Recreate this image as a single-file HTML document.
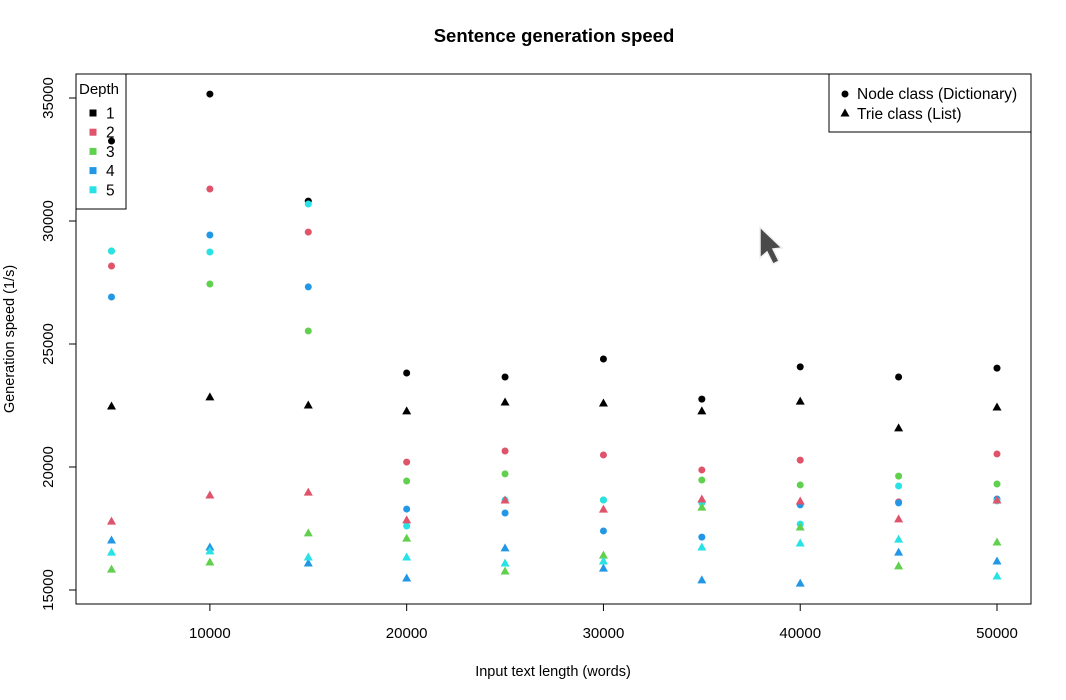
<!DOCTYPE html>
<html><head><meta charset="utf-8"><style>
body{margin:0;background:#fff;}
svg{display:block;font-family:"Liberation Sans",sans-serif;}
</style></head><body>
<svg id="chart" width="1066" height="700" viewBox="0 0 1066 700" xmlns="http://www.w3.org/2000/svg">
<rect width="1066" height="700" fill="#fff"/>
<text x="554" y="42" text-anchor="middle" font-size="18.5" font-weight="bold">Sentence generation speed</text>
<text x="553" y="676" text-anchor="middle" font-size="14.5">Input text length (words)</text>
<text transform="translate(14,339) rotate(-90)" text-anchor="middle" font-size="14.5">Generation speed (1/s)</text>
<rect x="76" y="74" width="955" height="530" fill="none" stroke="#000" stroke-width="1"/>
<g id="axes"></g>
<g>
<rect x="76" y="74" width="50" height="135" fill="#fff" stroke="#000"/>
<text x="79" y="94" font-size="15">Depth</text>
</g>
<g id="depthleg"></g>
<g>
<rect x="829" y="74" width="202" height="58" fill="#fff" stroke="#000"/>
<circle cx="845" cy="94" r="3.5" fill="#000"/>
<text x="857" y="99" font-size="15.5">Node class (Dictionary)</text>
<polygon points="845,108.5 849.5,116.5 840.5,116.5" fill="#000"/>
<text x="857" y="119" font-size="15.5">Trie class (List)</text>
</g>
<g id="marks"></g>
<polygon points="760,227 760,258 767,252 773,264 779,261 773,249 782,248" fill="#4a4a4a" stroke="#f0f0f0" stroke-width="1.5"/>
</svg>
<script>
const xs=[5000,10000,15000,20000,25000,30000,35000,40000,45000,50000];
const xTicks=[10000,20000,30000,40000,50000];
const yTicks=[15000,20000,25000,30000,35000];
const colors=["#000000","#DF536B","#61D04F","#2297E6","#28E2E5"];
const depths=["1","2","3","4","5"];
const node1=[33250,35160,30810,23820,23660,24390,22760,24070,23660,24020];
const node2=[28170,31300,29550,20200,20650,20490,19880,20280,18580,20530];
const node3=[28780,27440,25530,19430,19720,18660,19470,19270,19630,19310];
const node4=[26910,29430,27320,18290,18130,17400,17150,18460,18540,18700];
const node5=[28780,28740,30690,17600,18660,18660,18540,17680,19230,18620];
const trie1=[22480,22850,22520,22280,22640,22600,22280,22680,21590,22440];
const trie2=[17800,18860,18980,17850,18660,18290,18700,18620,17890,18660];
const trie3=[15850,16140,17320,17110,15770,16420,18370,17560,15980,16950];
const trie4=[17030,16750,16100,15490,16710,15890,15410,15280,16540,16180];
const trie5=[16540,16590,16340,16340,16100,16180,16750,16910,17070,15570];
const nodeSeries=[node1,node2,node3,node4,node5];
const trieSeries=[trie1,trie2,trie3,trie4,trie5];
const NS="http://www.w3.org/2000/svg";
function sx(v){return 111.5+(v-5000)*(997-111.5)/45000;}
function sy(v){return 590-(v-15000)*0.0246;}
const axes=document.getElementById('axes');
const marks=document.getElementById('marks');
function mk(tag,attrs,parent){const e=document.createElementNS(NS,tag);for(const k in attrs)e.setAttribute(k,attrs[k]);parent.appendChild(e);return e;}
mk('line',{x1:sx(10000),x2:sx(50000),y1:604,y2:604,stroke:'#000'},axes);
xTicks.forEach(t=>{
  const l=mk('line',{x1:sx(t),x2:sx(t),y1:604,y2:611,stroke:'#000'},axes);
  
  
  const tx=mk('text',{x:sx(t),y:638,'text-anchor':'middle','font-size':15},axes);
  tx.textContent=t;
  
  
});
mk('line',{x1:76,x2:76,y1:sy(15000),y2:sy(35000),stroke:'#000'},axes);
yTicks.forEach(t=>{
  const l=mk('line',{x1:69,x2:76,y1:sy(t),y2:sy(t),stroke:'#000'},axes);
  
  
  const tx=mk('text',{transform:`translate(53,${sy(t)}) rotate(-90)`,'text-anchor':'middle','font-size':15},axes);
  tx.textContent=t;
  
  
});
nodeSeries.forEach((s,i)=>{s.forEach((v,j)=>{
  const c=mk('circle',{cx:sx(xs[j]),cy:sy(v),r:3.5,fill:colors[i]},marks);
  
  
});});
trieSeries.forEach((s,i)=>{s.forEach((v,j)=>{
  const x=sx(xs[j]),y=sy(v);
  const p=mk('polygon',{points:`${x},${y-4.5} ${x+4.5},${y+3.5} ${x-4.5},${y+3.5}`,fill:colors[i]},marks);
  
  
});});
const dl=document.getElementById('depthleg');
depths.forEach((d,i)=>{
  const y=113+i*19.2;
  const r=mk('rect',{x:89.5,y:y-3.5,width:7,height:7,fill:colors[i]},dl);
  
  
  const t=mk('text',{x:106,y:y+5.5,'font-size':15.5},dl);
  t.textContent=d;
  
  
});
</script>
</body></html>
